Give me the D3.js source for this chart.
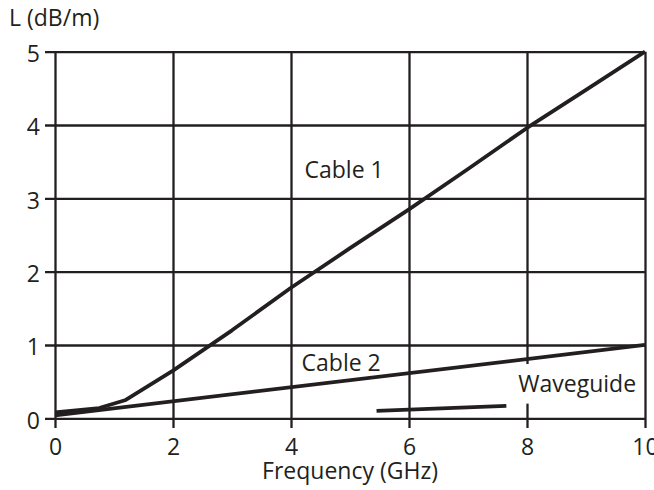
<!DOCTYPE html>
<html><head><meta charset="utf-8">
<script src="https://cdn.jsdelivr.net/npm/d3@7"></script>
<style>body{margin:0;background:#fff}svg{display:block}text{font-family:"Open Sans",sans-serif;fill:#231f20}</style>
</head><body><svg id="c" width="654" height="490"></svg>
<script>
const xTicks = [0, 2, 4, 6, 8, 10];
const yTicks = [0, 1, 2, 3, 4, 5];
const cable1 = [[0,0.08],[0.75,0.14],[1.2,0.25],[2,0.65],[3,1.2],[4,1.78],[5,2.32],[6,2.85],[7,3.4],[8,3.96],[9,4.48],[10,5.0]];
const cable2 = [[0,0.04],[10,1.0]];
const waveguide = [[5.45,0.10],[7.65,0.17]];
const seriesLabels = [
  {text:"Cable 1", x:4.9, y:3.28},
  {text:"Cable 2", x:4.85, y:0.65},
  {text:"Waveguide", x:8.85, y:0.36}
];
const xTitle = "Frequency (GHz)";
const yTitle = "L (dB/m)";

const ink = "#231f20";
const svg = d3.select("#c");
const x = d3.scaleLinear().domain([0,10]).range([55,645]);
const y = d3.scaleLinear().domain([0,5]).range([418.3,51.7]);
const fs = 23;

const gx = svg.append("g").attr("transform","translate(0,428)")
  .call(d3.axisBottom(x).tickValues(xTicks).tickSize(-(428-y(5))).tickPadding(11).tickFormat(d3.format("d")));
gx.select(".domain").remove();
gx.selectAll("line").attr("stroke",ink).attr("stroke-width",2.3);
gx.selectAll("text").attr("font-size",fs).attr("fill",ink).attr("dy","0.68em").style("font-family","'Open Sans',sans-serif");

const gy = svg.append("g").attr("transform","translate(45,0)")
  .call(d3.axisLeft(y).tickValues(yTicks).tickSize(-(x(10)-45)).tickPadding(5).tickFormat(d3.format("d")));
gy.select(".domain").remove();
gy.selectAll("line").attr("stroke",ink).attr("stroke-width",2.3);
gy.selectAll("text").attr("font-size",fs).attr("fill",ink).attr("dy","0.43em").style("font-family","'Open Sans',sans-serif");

const line = d3.line().x(d=>x(d[0])).y(d=>y(d[1]));
svg.append("rect").attr("x",x(7.95)-20).attr("y",y(0.74)).attr("width",x(9.85)-x(7.95)+20).attr("height",y(0.2)-y(0.74)).attr("fill","#fff");

[cable1, cable2, waveguide].forEach(s=>{
  svg.append("path").attr("d",line(s)).attr("fill","none").attr("stroke",ink).attr("stroke-width",3.8).attr("stroke-linejoin","round");
});

seriesLabels.forEach(l=>{
  svg.append("text").attr("x",x(l.x)).attr("y",y(l.y)).attr("text-anchor","middle").attr("font-size",fs).text(l.text);
});

svg.append("text").attr("x",(x(0)+x(10))/2).attr("y",479).attr("text-anchor","middle").attr("font-size",fs).text(xTitle);
svg.append("text").attr("x",9).attr("y",26).attr("font-size",fs).text(yTitle);
</script></body></html>
